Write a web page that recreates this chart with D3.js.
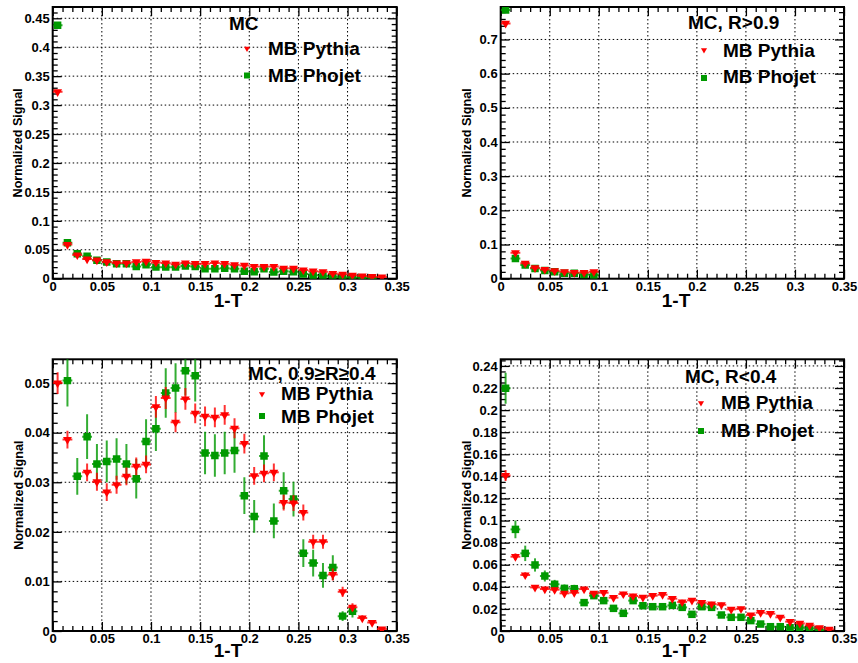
<!DOCTYPE html>
<html><head><meta charset="utf-8">
<script src="https://cdn.jsdelivr.net/npm/d3@7"></script>
<style>
body{margin:0;background:#fff;}
svg text{font-family:"Liberation Sans",Arial,Helvetica,sans-serif;font-weight:bold;fill:#000;}
</style></head><body>
<svg id="chart" width="858" height="663"></svg>
<script>
// ---------------- data ----------------
const binCenters = [0.005,0.015,0.025,0.035,0.045,0.055,0.065,0.075,0.085,0.095,
  0.105,0.115,0.125,0.135,0.145,0.155,0.165,0.175,0.185,0.195,
  0.205,0.215,0.225,0.235,0.245,0.255,0.265,0.275,0.285,0.295,
  0.305,0.315,0.325,0.335];
const seriesNames = ["MB Pythia","MB Phojet"];
const panelTitles = ["MC","MC, R>0.9","MC, 0.9\u2265R\u22650.4","MC, R<0.4"];
const xTickValues = [0,0.05,0.1,0.15,0.2,0.25,0.3,0.35];
const yTicksAll = [0,0.05,0.1,0.15,0.2,0.25,0.3,0.35,0.4,0.45];
const yTicksHigh = [0,0.1,0.2,0.3,0.4,0.5,0.6,0.7];
const yTicksMid = [0,0.01,0.02,0.03,0.04,0.05];
const yTicksLow = [0,0.02,0.04,0.06,0.08,0.1,0.12,0.14,0.16,0.18,0.2,0.22,0.24];

// Panel 1: MC (all)
const pythiaAll = [0.323,0.059,0.041,0.034,0.032,0.029,0.027,0.027,0.029,0.030,
  0.028,0.027,0.025,0.027,0.026,0.026,0.027,0.026,0.024,0.023,
  0.021,0.021,0.021,0.018,0.018,0.015,0.013,0.012,0.009,0.0075,
  0.006,0.0046,0.0035,0.003];
const pythiaAllErr = [0.003,0.002,0.0015,0.0012,0.0012,0.001,0.001,0.001,0.001,0.001,
  0.001,0.001,0.001,0.001,0.001,0.001,0.001,0.001,0.001,0.001,
  0.001,0.001,0.001,0.001,0.001,0.001,0.001,0.001,0.0008,0.0008,
  0.0008,0.0006,0.0006,0.0005];
const phojetAll = [0.438,0.062,0.043,0.039,0.032,0.029,0.026,0.026,0.021,0.024,
  0.020,0.020,0.020,0.022,0.021,0.017,0.017,0.018,0.017,0.013,
  0.012,0.017,0.0115,0.013,0.012,0.008,0.006,0.0046,0.0035,0.002,
  0.002,0.0017,0.001,null];
const phojetAllErr = [0.004,0.002,0.0015,0.0015,0.0012,0.0012,0.001,0.001,0.001,0.001,
  0.001,0.001,0.001,0.001,0.001,0.001,0.001,0.001,0.001,0.001,
  0.001,0.001,0.001,0.001,0.001,0.0008,0.0008,0.0006,0.0006,0.0005,
  0.0005,0.0005,0.0005,null];

// Panel 2: R>0.9
const pythiaHigh = [0.747,0.076,0.045,0.032,0.027,0.023,0.020,0.018,0.018,0.020];
const pythiaHighErr = [0.006,0.006,0.004,0.003,0.003,0.003,0.003,0.003,0.003,0.004];
const phojetHigh = [0.786,0.059,0.040,0.030,0.024,0.020,0.016,0.016,0.012,0.011];
const phojetHighErr = [0.008,0.005,0.004,0.003,0.003,0.003,0.003,0.003,0.003,0.003];

// Panel 3: 0.9>=R>=0.4
const pythiaMid = [0.050,0.0386,null,0.032,0.0301,0.028,0.0295,0.0312,0.0332,0.0336,
  0.0452,0.047,0.0421,0.0468,0.0439,0.0433,0.0431,0.0436,0.0409,0.0378,
  0.0313,0.0318,0.032,0.0259,0.0258,0.0239,0.018,0.018,0.0114,0.0079,
  0.0048,0.0026,0.0017,0.0004];
const pythiaMidErr = [0.0022,0.0018,null,0.0018,0.0018,0.0018,0.0018,0.0018,0.0018,0.0018,
  0.0022,0.0022,0.002,0.0022,0.002,0.002,0.002,0.002,0.002,0.002,
  0.0018,0.0018,0.0018,0.0016,0.0016,0.0016,0.0014,0.0014,0.0012,0.001,
  0.0008,0.0006,0.0005,0.0003];
const phojetMid = [null,0.0505,0.0312,0.0392,0.0337,0.0342,0.0347,0.0337,0.0307,0.0382,
  0.0408,0.048,0.049,0.0525,0.0515,0.0359,0.0354,0.0359,0.0364,0.0273,
  0.0231,0.0353,0.0222,0.0283,0.0266,0.0157,0.0137,0.0112,0.0128,0.003,
  0.004,null,null,null];
const phojetMidErr = [null,0.0052,0.0037,0.0045,0.004,0.0042,0.0042,0.004,0.004,0.0045,
  0.0045,0.005,0.005,0.005,0.0052,0.0043,0.0043,0.0043,0.0045,0.0037,
  0.0033,0.0042,0.0035,0.0037,0.0035,0.0028,0.0027,0.0025,0.0025,0.001,
  0.0013,null,null,null];

// Panel 4: R<0.4
const pythiaLow = [0.1407,0.0673,0.0507,0.0395,0.038,0.0374,0.0341,0.0347,0.038,0.0341,
  0.0347,0.0302,0.0335,0.0317,0.0305,0.032,0.0329,0.0293,0.0263,0.0278,
  0.0257,0.0245,0.0238,0.0196,0.0202,0.0145,0.0166,0.0157,0.0124,0.0085,
  0.0069,0.0051,0.003,0.0015];
const pythiaLowErr = [0.005,0.003,0.0025,0.002,0.002,0.002,0.002,0.002,0.002,0.002,
  0.002,0.002,0.002,0.002,0.002,0.002,0.002,0.002,0.002,0.002,
  0.002,0.002,0.002,0.0018,0.0018,0.0016,0.0016,0.0016,0.0014,0.0012,
  0.001,0.001,0.0008,0.0006];
const phojetLow = [0.2198,0.092,0.0703,0.0598,0.0498,0.0423,0.0386,0.0383,0.0257,0.032,
  0.0275,0.0205,0.016,0.0275,0.0229,0.022,0.022,0.0232,0.0214,0.0151,
  0.022,0.0214,0.0145,0.0124,0.0124,0.0094,0.0063,0.0039,0.0039,0.003,
  0.003,0.0024,0.0009,null];
const phojetLowErr = [0.014,0.008,0.007,0.006,0.005,0.004,0.0035,0.0035,0.003,0.003,
  0.003,0.003,0.003,0.003,0.003,0.003,0.003,0.003,0.003,0.0025,
  0.003,0.003,0.0025,0.0025,0.0025,0.002,0.0018,0.0015,0.0015,0.0012,
  0.0012,0.001,0.0008,null];

// ---------------- layout / styles ----------------
const RED = "#ff0000", GREEN = "#009900";
const binHalf = 0.005;
const svg = d3.select("#chart");
svg.append("rect").attr("width",858).attr("height",663).attr("fill","#fff");

const panels = [
  {id:"p1", left:52.7, right:396.7, top:7, bottom:278.7, yMax:0.4695, yTicks:yTicksAll, yMinor:0.01,
   title:panelTitles[0], pyth:pythiaAll, pythErr:pythiaAllErr, phoj:phojetAll, phojErr:phojetAllErr,
   leg:{tx:229, ty:30, mx:247, my1:48.5, my2:75.5, lx:268, ly1:55, ly2:82},
   yTitleX:18, xTitleX:228, xTitleY:307},
  {id:"p2", left:500.7, right:844, top:7, bottom:278.7, yMax:0.795, yTicks:yTicksHigh, yMinor:0.02,
   title:panelTitles[1], pyth:pythiaHigh, pythErr:pythiaHighErr, phoj:phojetHigh, phojErr:phojetHighErr,
   leg:{tx:688, ty:29, mx:704, my1:50, my2:78, lx:723, ly1:56.5, ly2:83},
   yTitleX:466.7, xTitleX:676, xTitleY:307},
  {id:"p3", left:52.7, right:396.7, top:359.3, bottom:631, yMax:0.0548, yTicks:yTicksMid, yMinor:0.002,
   title:panelTitles[2], pyth:pythiaMid, pythErr:pythiaMidErr, phoj:phojetMid, phojErr:phojetMidErr,
   leg:{tx:248, ty:380, mx:262, my1:394, my2:416, lx:281, ly1:400, ly2:422.5},
   yTitleX:18.3, xTitleX:228, xTitleY:657},
  {id:"p4", left:500.7, right:844, top:359.3, bottom:631, yMax:0.246, yTicks:yTicksLow, yMinor:0.005,
   title:panelTitles[3], pyth:pythiaLow, pythErr:pythiaLowErr, phoj:phojetLow, phojErr:phojetLowErr,
   leg:{tx:685, ty:383, mx:701, my1:403, my2:431, lx:721, ly1:409, ly2:437},
   yTitleX:466.7, xTitleX:676, xTitleY:657}
];

const fmt = d => d === 0 ? "0" : String(+d.toFixed(3));
const triSym = d3.symbol().type(d3.symbolTriangle);
const sqSym = d3.symbol().type(d3.symbolSquare);

function styleAxis(g, labels){
  g.select(".domain").remove();
  g.selectAll(".tick line").attr("stroke","#000").attr("stroke-width",1.3);
  g.selectAll(".tick text").attr("font-size", labels ? 13 : 0)
    .attr("font-family","'Liberation Sans',Arial,sans-serif").attr("font-weight","bold").attr("fill","#000");
  g.attr("font-family", null).attr("font-size", null);
}

panels.forEach(p => {
  const x = d3.scaleLinear().domain([0,0.35]).range([p.left,p.right]);
  const y = d3.scaleLinear().domain([0,p.yMax]).range([p.bottom,p.top]);
  const g = svg.append("g").attr("class",p.id);

  // grid
  g.append("g").selectAll("line").data(xTickValues.filter(v => v>0 && v<0.35)).join("line")
    .attr("x1",d=>x(d)).attr("x2",d=>x(d)).attr("y1",p.top).attr("y2",p.bottom)
    .attr("stroke","#000").attr("stroke-width",1).attr("stroke-dasharray","1.5,2.5");
  g.append("g").selectAll("line").data(p.yTicks.filter(v => v>0 && v<p.yMax)).join("line")
    .attr("y1",d=>y(d)).attr("y2",d=>y(d)).attr("x1",p.left).attr("x2",p.right)
    .attr("stroke","#000").attr("stroke-width",1).attr("stroke-dasharray","1.5,2.5");

  // minor tick positions
  const xMinor = d3.range(0,36).map(i => +(i*0.01).toFixed(4)).filter(v => !xTickValues.some(t => Math.abs(t-v)<1e-6));
  const nY = Math.floor(p.yMax/p.yMinor + 1e-6);
  const yMinor = d3.range(0,nY+1).map(i => +(i*p.yMinor).toFixed(5)).filter(v => !p.yTicks.some(t => Math.abs(t-v)<1e-7));

  // axes: major with labels (bottom, left), ticks inward on all sides
  const gb = g.append("g").attr("transform",`translate(0,${p.bottom})`)
    .call(d3.axisBottom(x).tickValues(xTickValues).tickSize(-9).tickPadding(3).tickFormat(fmt));
  styleAxis(gb, true);
  const gl = g.append("g").attr("transform",`translate(${p.left},0)`)
    .call(d3.axisLeft(y).tickValues(p.yTicks).tickSize(-9).tickPadding(3).tickFormat(fmt));
  styleAxis(gl, true);
  const gt = g.append("g").attr("transform",`translate(0,${p.top})`)
    .call(d3.axisTop(x).tickValues(xTickValues).tickSize(-9).tickFormat(""));
  styleAxis(gt, false);
  const gr = g.append("g").attr("transform",`translate(${p.right},0)`)
    .call(d3.axisRight(y).tickValues(p.yTicks).tickSize(-9).tickFormat(""));
  styleAxis(gr, false);
  // minor
  [[d3.axisBottom(x).tickValues(xMinor), `translate(0,${p.bottom})`],
   [d3.axisTop(x).tickValues(xMinor), `translate(0,${p.top})`],
   [d3.axisLeft(y).tickValues(yMinor), `translate(${p.left},0)`],
   [d3.axisRight(y).tickValues(yMinor), `translate(${p.right},0)`]].forEach(([a,t]) => {
     const m = g.append("g").attr("transform",t).call(a.tickSize(-5).tickFormat(""));
     styleAxis(m,false);
  });

  // frame
  g.append("rect").attr("x",p.left).attr("y",p.top).attr("width",p.right-p.left).attr("height",p.bottom-p.top)
    .attr("fill","none").attr("stroke","#000").attr("stroke-width",2);

  // clip
  const clipId = "clip-"+p.id;
  svg.append("clipPath").attr("id",clipId).append("rect")
    .attr("x",p.left).attr("y",p.top).attr("width",p.right-p.left).attr("height",p.bottom-p.top);
  const dg = g.append("g").attr("clip-path",`url(#${clipId})`);

  function drawSeries(vals, errs, color, isTri){
    const pts = vals.map((v,i) => ({c:binCenters[i], v, e:errs[i]})).filter(d => d.v !== null);
    const s = dg.append("g");
    s.selectAll("line.h").data(pts).join("line").attr("class","h")
      .attr("x1",d=>x(d.c-binHalf)).attr("x2",d=>x(d.c+binHalf)).attr("y1",d=>y(d.v)).attr("y2",d=>y(d.v))
      .attr("stroke",color).attr("stroke-width",2).attr("stroke-opacity",0.8);
    s.selectAll("line.v").data(pts).join("line").attr("class","v")
      .attr("x1",d=>x(d.c)).attr("x2",d=>x(d.c)).attr("y1",d=>y(d.v-d.e)).attr("y2",d=>y(d.v+d.e))
      .attr("stroke",color).attr("stroke-width",2).attr("stroke-opacity",0.8);
    s.selectAll("path").data(pts).join("path")
      .attr("d", isTri ? triSym.size(34)() : sqSym.size(56)())
      .attr("transform", d => `translate(${x(d.c)},${y(d.v)})` + (isTri ? " rotate(180)" : ""))
      .attr("fill",color);
  }
  drawSeries(p.phoj, p.phojErr, GREEN, false);
  drawSeries(p.pyth, p.pythErr, RED, true);

  // legend
  const L = p.leg;
  g.append("text").attr("x",L.tx).attr("y",L.ty).attr("font-size",19).text(p.title);
  g.append("path").attr("d",triSym.size(16)()).attr("transform",`translate(${L.mx},${L.my1}) rotate(180)`).attr("fill",RED);
  g.append("path").attr("d",sqSym.size(36)()).attr("transform",`translate(${L.mx},${L.my2})`).attr("fill",GREEN);
  g.append("text").attr("x",L.lx).attr("y",L.ly1).attr("font-size",19).text(seriesNames[0]);
  g.append("text").attr("x",L.lx).attr("y",L.ly2).attr("font-size",19).text(seriesNames[1]);

  // axis titles
  g.append("text").attr("transform",`translate(${p.yTitleX},${(p.top+p.bottom)/2}) rotate(-90)`)
    .attr("dy","0.35em").attr("text-anchor","middle").attr("font-size",12.6).text("Normalized Signal");
  g.append("text").attr("x",p.xTitleX).attr("y",p.xTitleY).attr("text-anchor","middle")
    .attr("font-size",19).text("1-T");
});
</script>
</body></html>
